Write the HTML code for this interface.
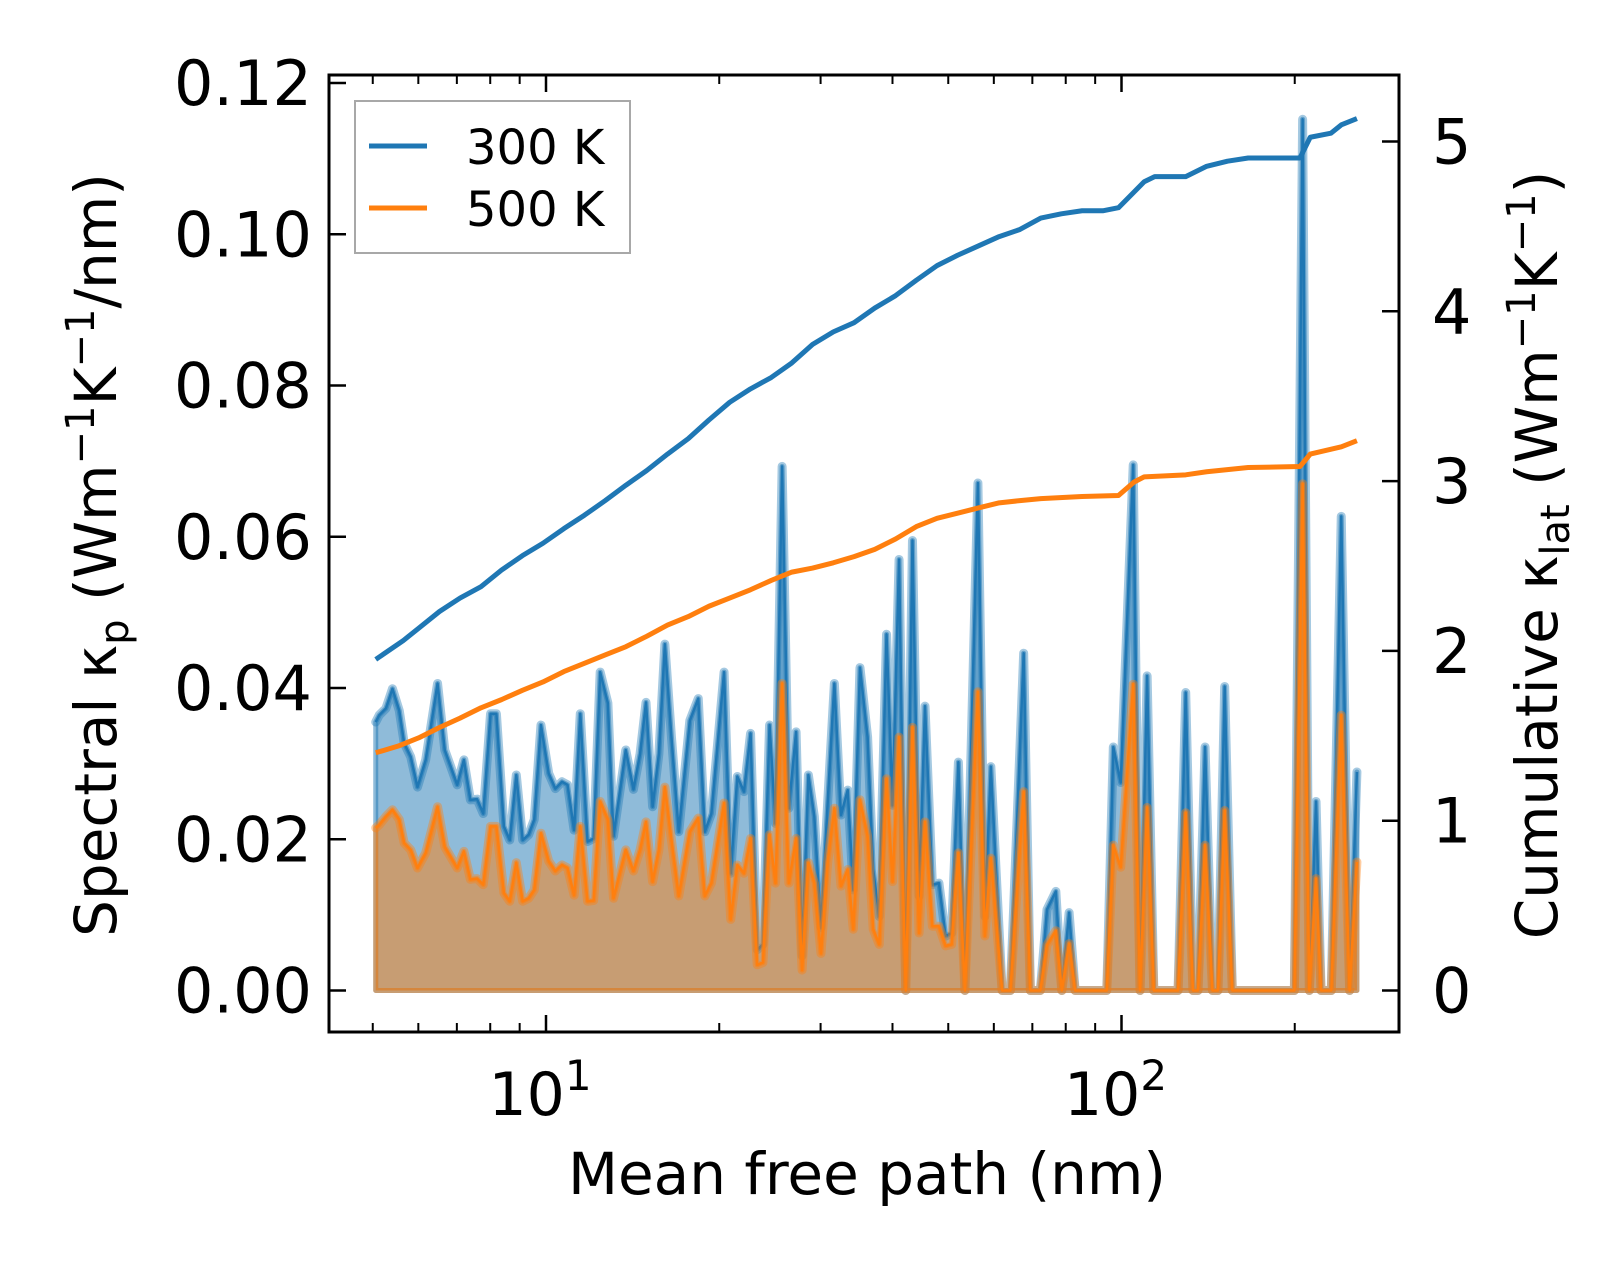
<!DOCTYPE html>
<html><head><meta charset="utf-8">
<style>
html,body{margin:0;padding:0;background:#fff;}
svg{display:block;font-family:"DejaVu Sans","Liberation Sans",sans-serif;}
</style></head>
<body>
<svg id="chart" width="1623" height="1270" viewBox="0 0 1623 1270" xmlns="http://www.w3.org/2000/svg">
<rect x="0" y="0" width="1623" height="1270" fill="#fff"/>
<g id="marks"></g>
<g id="axes"></g>
<text x="867" y="1194" font-size="58" text-anchor="middle">Mean free path (nm)</text>
<text transform="translate(116,555) rotate(-90)" font-size="58" text-anchor="middle">Spectral κ<tspan font-size="40" dy="12">p</tspan><tspan dy="-12"> (Wm</tspan><tspan font-size="40" dy="-22">−1</tspan><tspan dy="22">K</tspan><tspan font-size="40" dy="-22">−1</tspan><tspan dy="22">/nm)</tspan></text>
<text transform="translate(1557,555) rotate(-90)" font-size="58" text-anchor="middle">Cumulative κ<tspan font-size="40" dy="12">lat</tspan><tspan dy="-12"> (Wm</tspan><tspan font-size="40" dy="-22">−1</tspan><tspan dy="22">K</tspan><tspan font-size="40" dy="-22">−1</tspan><tspan dy="22">)</tspan></text>
<g>
<rect x="355" y="101" width="275" height="152" fill="#fff" fill-opacity="0.8" stroke="#a8a8a8" stroke-width="2"/>
<line x1="369" y1="146" x2="427" y2="146" stroke="#1f77b4" stroke-width="5"/>
<text x="466" y="164" font-size="48">300 K</text>
<line x1="369" y1="208" x2="427" y2="208" stroke="#ff7f0e" stroke-width="5"/>
<text x="466" y="226" font-size="48">500 K</text>
</g>
</svg>
<script>
const mfp = [5.06,5.13,5.27,5.41,5.56,5.67,5.82,5.98,6.18,6.48,6.67,7.01,7.20,7.39,7.59,7.78,8.01,8.20,8.45,8.65,8.88,9.11,9.33,9.54,9.80,10.11,10.38,10.66,10.90,11.19,11.47,11.81,12.10,12.42,12.81,13.10,13.76,14.19,14.57,14.92,15.32,15.71,16.09,16.52,17.01,17.78,18.39,18.88,19.38,20.39,20.94,21.50,22.08,22.67,23.28,23.82,24.46,25.05,25.72,26.42,27.20,27.86,28.57,29.26,30.05,30.86,31.70,32.55,33.44,34.19,35.12,36.21,37.03,37.93,39.06,40.01,41.07,42.18,43.33,44.49,45.56,46.92,48.17,49.47,50.67,52.07,53.45,56.30,57.89,59.29,62.03,64.11,67.61,69.45,72.27,74.22,76.90,78.76,81.09,83.06,94.28,96.78,99.68,104.8,107.7,110.8,113.8,125.4,129.3,133.1,135.8,139.7,143.9,147.1,151.1,155.8,199.7,206.4,212.0,217.8,222.2,231.5,240.9,249.1,256.5];
const k300 = [0.0355,0.0364,0.0373,0.0399,0.0370,0.0327,0.0309,0.0269,0.0305,0.0406,0.0318,0.0272,0.0305,0.0252,0.0253,0.0234,0.0366,0.0366,0.0217,0.0199,0.0285,0.0199,0.0206,0.0226,0.0351,0.0287,0.0267,0.0276,0.0272,0.0212,0.0366,0.0197,0.0201,0.0421,0.0380,0.0204,0.0318,0.0266,0.0313,0.0381,0.0243,0.0313,0.0458,0.0335,0.0210,0.0357,0.0386,0.0210,0.0234,0.0421,0.0155,0.0283,0.0263,0.0340,0.0054,0.0061,0.0351,0.0221,0.0693,0.0241,0.0342,0.0046,0.0285,0.0230,0.0083,0.0248,0.0406,0.0232,0.0265,0.0133,0.0427,0.0335,0.0160,0.0098,0.0471,0.0245,0.0570,0,0.0595,0.0125,0.0376,0.0140,0.0142,0.0072,0.0076,0.0302,0,0.0671,0.0098,0.0296,0,0,0.0446,0,0,0.0107,0.0131,0,0.0103,0,0,0.0322,0.0275,0.0695,0,0.0416,0,0,0.0394,0,0,0.0322,0,0,0.0402,0,0,0.1152,0,0.0250,0,0,0.0627,0,0.0289];
const k500 = [0.0215,0.0219,0.0230,0.0239,0.0226,0.0195,0.0186,0.0162,0.0182,0.0243,0.0190,0.0162,0.0184,0.0147,0.0148,0.0140,0.0217,0.0217,0.0129,0.0118,0.0169,0.0118,0.0122,0.0133,0.0208,0.0171,0.0158,0.0166,0.0162,0.0126,0.0217,0.0118,0.0119,0.0250,0.0226,0.0122,0.0186,0.0158,0.0186,0.0223,0.0144,0.0186,0.0269,0.0199,0.0125,0.0210,0.0228,0.0125,0.0142,0.0248,0.0094,0.0166,0.0155,0.0201,0.0034,0.0037,0.0206,0.0142,0.0406,0.0142,0.0201,0.0027,0.0169,0.0142,0.0049,0.0169,0.0241,0.0138,0.0160,0.0081,0.0252,0.0204,0.0081,0.0061,0.0280,0.0144,0.0335,0,0.0348,0.0076,0.0223,0.0085,0.0085,0.0059,0.0061,0.0182,0,0.0395,0.0072,0.0175,0,0,0.0263,0,0,0.0060,0.0079,0,0.0062,0,0,0.0192,0.0163,0.0405,0,0.0242,0,0,0.0235,0,0,0.0192,0,0,0.0238,0,0,0.0670,0,0.0148,0,0,0.0364,0,0.0170];
const cumMfp300 = [5.06,5.65,6.01,6.53,7.09,7.71,8.37,9.10,9.88,10.74,11.66,12.67,13.77,14.96,16.26,17.67,19.19,20.85,22.66,24.62,26.74,29.06,31.57,34.30,37.26,40.49,44.00,47.8,51.9,56.4,61.3,66.6,72.4,78.6,85.4,92.8,98.8,105.1,109.5,114.2,129.3,140.6,152.8,166.0,204.2,212.8,231.2,241.0,256.5];
const cum300 = [1.950,2.061,2.134,2.232,2.311,2.378,2.476,2.561,2.634,2.720,2.799,2.885,2.976,3.062,3.159,3.250,3.360,3.464,3.543,3.610,3.696,3.805,3.879,3.933,4.019,4.092,4.183,4.269,4.330,4.385,4.440,4.482,4.549,4.574,4.592,4.592,4.610,4.702,4.763,4.793,4.793,4.854,4.884,4.903,4.903,5.025,5.049,5.098,5.135];
const cumMfp500 = [5.06,5.53,6.01,6.53,7.09,7.71,8.37,9.10,9.88,10.74,11.66,12.67,13.77,14.96,16.26,17.67,19.19,20.85,22.66,24.62,26.74,29.06,31.57,34.30,37.26,40.49,44.00,47.8,51.9,56.4,61.3,66.6,72.4,85.4,98.8,105.1,109.5,129.3,140.6,166.0,204.2,212.8,241.0,256.5];
const cum500 = [1.400,1.439,1.488,1.549,1.604,1.665,1.713,1.768,1.817,1.878,1.927,1.976,2.025,2.086,2.152,2.202,2.263,2.311,2.360,2.415,2.464,2.488,2.519,2.555,2.598,2.659,2.732,2.781,2.811,2.842,2.872,2.885,2.897,2.909,2.915,2.994,3.025,3.037,3.055,3.080,3.086,3.159,3.202,3.238];
const leftTicks = [0,0.02,0.04,0.06,0.08,0.10,0.12];
const leftTickLabels = ["0.00","0.02","0.04","0.06","0.08","0.10","0.12"];
const rightTicks = [0,1,2,3,4,5];
const rightTickLabels = ["0","1","2","3","4","5"];
const xMajor = [10,100];
const xMinor = [5,6,7,8,9,20,30,40,50,60,70,80,90,200];

const NS = "http://www.w3.org/2000/svg";
const X0 = 329, X1 = 1399, Y0 = 75, Y1 = 1032;
function xs(m){ return 546 + (Math.log10(m) - 1) * 575.5; }
function yl(v){ return 990.5 - v / 0.02 * 151.25; }
function yr(v){ return 990.5 - v * 169.8; }
function mk(tag, attrs, parent){
  const e = document.createElementNS(NS, tag);
  for (const k in attrs) e.setAttribute(k, attrs[k]);
  parent.appendChild(e);
  return e;
}
const marks = document.getElementById('marks');
const axes = document.getElementById('axes');

function linePts(xv, yv, yf){ return xv.map((m,i)=> xs(m).toFixed(2)+','+yf(yv[i]).toFixed(2)).join(' '); }
function areaPts(xv, yv){
  return xs(xv[0]).toFixed(2)+','+yl(0)+' '+linePts(xv,yv,yl)+' '+xs(xv[xv.length-1]).toFixed(2)+','+yl(0);
}
const f1 = mk('polygon', {points: areaPts(mfp,k300), fill:'#1f77b4', 'fill-opacity':0.5, stroke:'#1f77b4', 'stroke-opacity':0.5, 'stroke-width':5, 'stroke-linejoin':'round'}, marks);


const h1 = mk('polyline', {points: linePts(mfp,k300,yl), fill:'none', stroke:'#1f77b4', 'stroke-opacity':0.4, 'stroke-width':9, 'stroke-linejoin':'round', 'stroke-linecap':'round'}, marks);


const l1 = mk('polyline', {points: linePts(mfp,k300,yl), fill:'none', stroke:'#1f77b4', 'stroke-width':2.5, 'stroke-linejoin':'round'}, marks);


const f2 = mk('polygon', {points: areaPts(mfp,k500), fill:'#ff7f0e', 'fill-opacity':0.5, stroke:'#ff7f0e', 'stroke-opacity':0.5, 'stroke-width':5, 'stroke-linejoin':'round'}, marks);


const h2 = mk('polyline', {points: linePts(mfp,k500,yl), fill:'none', stroke:'#ff7f0e', 'stroke-opacity':0.4, 'stroke-width':9, 'stroke-linejoin':'round', 'stroke-linecap':'round'}, marks);


const l2 = mk('polyline', {points: linePts(mfp,k500,yl), fill:'none', stroke:'#ff7f0e', 'stroke-width':2.5, 'stroke-linejoin':'round'}, marks);


const c1 = mk('polyline', {points: linePts(cumMfp300,cum300,yr), fill:'none', stroke:'#1f77b4', 'stroke-width':5, 'stroke-linejoin':'round'}, marks);


const c2 = mk('polyline', {points: linePts(cumMfp500,cum500,yr), fill:'none', stroke:'#ff7f0e', 'stroke-width':5, 'stroke-linejoin':'round'}, marks);



const fr = mk('rect', {x:X0, y:Y0, width:X1-X0, height:Y1-Y0, fill:'none', stroke:'#000', 'stroke-width':3}, axes);


leftTicks.forEach((v,i)=>{
  const y = yl(v);
  const t = mk('line', {x1:X0, x2:X0+17, y1:y, y2:y, stroke:'#000', 'stroke-width':2.5}, axes);
  
  
  const tx = mk('text', {x:312, y:y+22, 'font-size':62, 'text-anchor':'end'}, axes);
  tx.textContent = leftTickLabels[i];
  
  
});
rightTicks.forEach((v,i)=>{
  const y = yr(v);
  const t = mk('line', {x1:X1-17, x2:X1, y1:y, y2:y, stroke:'#000', 'stroke-width':2.5}, axes);
  
  
  const tx = mk('text', {x:1432, y:y+22, 'font-size':62, 'text-anchor':'start'}, axes);
  tx.textContent = rightTickLabels[i];
  
  
});
xMajor.forEach((m,i)=>{
  const x = xs(m);
  [[Y1,Y1-17],[Y0,Y0+17]].forEach(p=>{
    const t = mk('line', {x1:x, x2:x, y1:p[0], y2:p[1], stroke:'#000', 'stroke-width':2.5}, axes);
    
    
  });
  const tx = mk('text', {x:x-6, y:1115, 'font-size':60, 'text-anchor':'middle'}, axes);
  
  
  const a = document.createElementNS(NS,'tspan'); a.textContent = '10'; tx.appendChild(a);
  const b = document.createElementNS(NS,'tspan'); b.setAttribute('font-size','42'); b.setAttribute('dy','-25'); b.textContent = String(i+1); tx.appendChild(b);
});
xMinor.forEach(m=>{
  const x = xs(m);
  if (x < X0 || x > X1) return;
  [[Y1,Y1-9],[Y0,Y0+9]].forEach(p=>{
    const t = mk('line', {x1:x, x2:x, y1:p[0], y2:p[1], stroke:'#000', 'stroke-width':2}, axes);
    
    
  });
});
</script>
</body></html>
